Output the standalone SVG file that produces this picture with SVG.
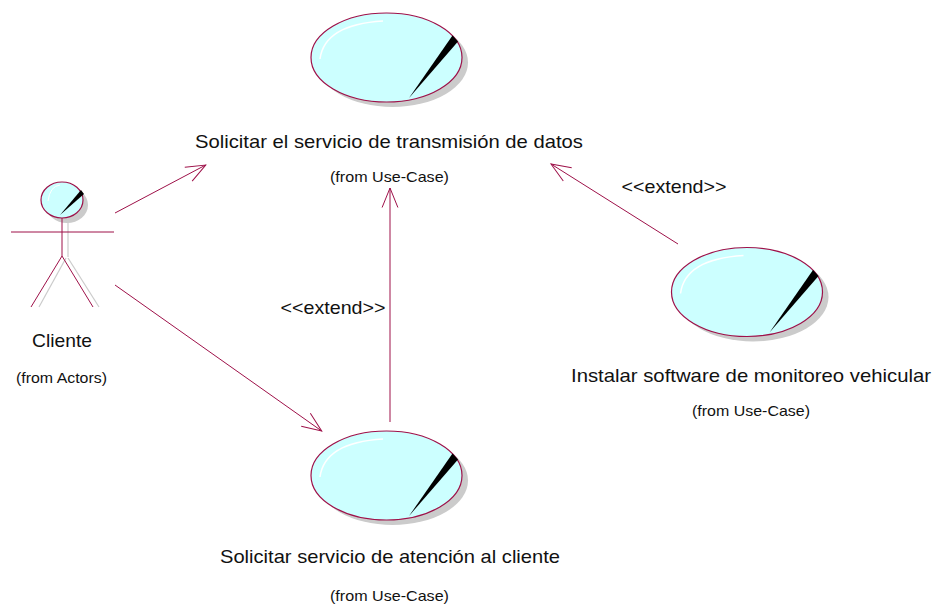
<svg xmlns="http://www.w3.org/2000/svg" xmlns:xlink="http://www.w3.org/1999/xlink" width="932" height="606" viewBox="0 0 932 606">
<style>
  .ln{stroke:#9E1149;stroke-width:1;fill:none}
  .big{font-family:"Liberation Sans",Arial,sans-serif;font-size:19px;fill:#111;text-anchor:middle}
  .sm{font-family:"Liberation Sans",Arial,sans-serif;font-size:15px;fill:#111;text-anchor:middle}
</style>
<defs>
  <marker id="arr" viewBox="-22 -10 24 20" refX="0" refY="0" markerWidth="24" markerHeight="20" orient="auto" markerUnits="userSpaceOnUse">
    <path d="M-19.5,-7.9 L0,0 L-19.5,7.9" fill="none" stroke="#9E1149" stroke-width="1"/>
  </marker>
  <g id="uc">
    <ellipse cx="6" cy="5" rx="75.5" ry="44.5" fill="#CBCBCB"/>
    <ellipse cx="0" cy="0" rx="75.5" ry="44.5" fill="#CCFFFF" stroke="#9E1149" stroke-width="1.2"/>
    <path d="M-66.5,1.5 Q-62,-33 -3.5,-36.5" fill="none" stroke="#FFFFFF" stroke-width="1.5"/>
    <polygon points="66,-22 71.5,-16 22.5,40.5" fill="#000"/>
  </g>
</defs>

<g id="connectors">
  <line class="ln" x1="115" y1="213" x2="205.7" y2="165" marker-end="url(#arr)"/>
  <line class="ln" x1="115" y1="285" x2="321.7" y2="431" marker-end="url(#arr)"/>
  <line class="ln" x1="390" y1="422" x2="390" y2="188" marker-end="url(#arr)"/>
  <line class="ln" x1="678" y1="244" x2="551" y2="164" marker-end="url(#arr)"/>
  <text class="big" x="333" y="314" textLength="105" lengthAdjust="spacingAndGlyphs">&lt;&lt;extend&gt;&gt;</text>
  <text class="big" x="674" y="193" textLength="105" lengthAdjust="spacingAndGlyphs">&lt;&lt;extend&gt;&gt;</text>
</g>

<g id="actor-cliente">
  <g stroke="#CBCBCB" stroke-width="1.2" fill="none">
    <line x1="68" y1="220" x2="68" y2="257"/>
    <line x1="66" y1="258" x2="39" y2="307"/>
    <line x1="68" y1="258" x2="99" y2="307"/>
  </g>
  <ellipse cx="67" cy="205" rx="21" ry="18" fill="#CBCBCB"/>
  <ellipse cx="62" cy="200" rx="21" ry="18" fill="#CCFFFF" stroke="#9E1149" stroke-width="1.2"/>
  <path d="M48,201 Q50,186 60,185" fill="none" stroke="#FFFFFF" stroke-width="1"/>
  <polygon points="81,190 84,194 60,215" fill="#000"/>
  <g class="ln" stroke-width="1.2">
    <line x1="62" y1="218" x2="62" y2="256"/>
    <line x1="11" y1="232" x2="114" y2="232"/>
    <line x1="62" y1="256" x2="31" y2="307"/>
    <line x1="62" y1="256" x2="93" y2="307"/>
  </g>
  <text class="big" x="62" y="347" textLength="60" lengthAdjust="spacingAndGlyphs">Cliente</text>
  <text class="sm" x="61.5" y="383" textLength="91" lengthAdjust="spacingAndGlyphs">(from Actors)</text>
</g>

<g id="uc-transmision">
  <use xlink:href="#uc" x="386.5" y="57.5"/>
  <text class="big" x="389" y="148" textLength="388" lengthAdjust="spacingAndGlyphs">Solicitar el servicio de transmisión de datos</text>
  <text class="sm" x="389.5" y="182" textLength="119" lengthAdjust="spacingAndGlyphs">(from Use-Case)</text>
</g>

<g id="uc-atencion">
  <use xlink:href="#uc" x="386.5" y="475.5"/>
  <text class="big" x="390" y="563" textLength="340" lengthAdjust="spacingAndGlyphs">Solicitar servicio de atención al cliente</text>
  <text class="sm" x="389.5" y="601" textLength="119" lengthAdjust="spacingAndGlyphs">(from Use-Case)</text>
</g>

<g id="uc-instalar">
  <use xlink:href="#uc" x="747" y="292"/>
  <text class="big" x="751" y="382" textLength="360" lengthAdjust="spacingAndGlyphs">Instalar software de monitoreo vehicular</text>
  <text class="sm" x="751" y="416" textLength="118" lengthAdjust="spacingAndGlyphs">(from Use-Case)</text>
</g>
</svg>
